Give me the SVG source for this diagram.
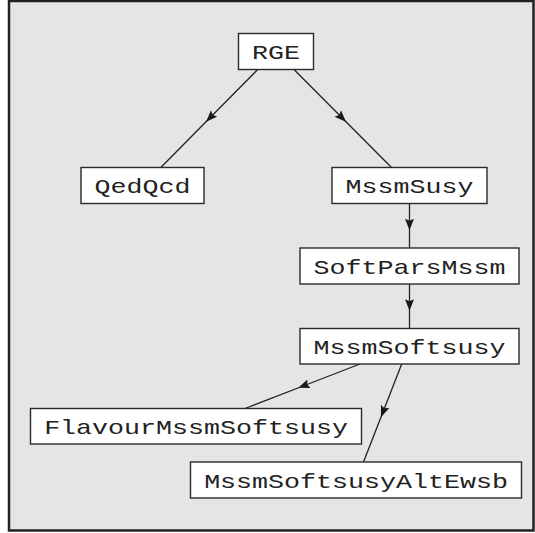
<svg xmlns="http://www.w3.org/2000/svg" width="535" height="533" viewBox="0 0 535 533">
<style>
.node rect{fill:#fff;stroke:#2a2a2a;stroke-width:1.4}
.node text{font-family:"Liberation Mono","Courier New",monospace;font-size:20.5px;fill:#222;text-anchor:middle}
.edge{fill:none;stroke:#222;stroke-width:1.3;marker-mid:url(#arr)}
</style>
<defs>
<marker id="arr" markerUnits="userSpaceOnUse" markerWidth="12" markerHeight="10" viewBox="0 0 12 9" refX="7" refY="4.5" orient="auto">
<path d="M0,0 L11.5,4.5 L0,9 L2,4.5 z" fill="#1a1a1a"/>
</marker>
</defs>
<rect x="9" y="1" width="524.5" height="529.5" fill="#e5e5e5" stroke="#222" stroke-width="2.5"/>
<g id="connectors">
<path class="edge" d="M257.7,69.5 L209.25,118.5 L160.8,167.5"/>
<path class="edge" d="M294,69.5 L342.75,118.5 L391.5,167.5"/>
<path class="edge" d="M409.5,203.5 L409.5,225.75 L409.5,248"/>
<path class="edge" d="M409.5,284 L409.5,306.25 L409.5,328.5"/>
<path class="edge" d="M360,364 L302.5,386.25 L245,408.5"/>
<path class="edge" d="M401.7,364 L382.6,413 L363.5,462"/>
</g>
<g id="RGE" class="node"><rect x="238.5" y="33.5" width="75" height="36"/><text transform="translate(276,59) scale(1.3,1)">RGE</text></g>
<g id="QedQcd" class="node"><rect x="81" y="167.5" width="123" height="36"/><text transform="translate(142.5,193) scale(1.3,1)">QedQcd</text></g>
<g id="MssmSusy" class="node"><rect x="332" y="167.5" width="155" height="36"/><text transform="translate(409.5,193) scale(1.3,1)">MssmSusy</text></g>
<g id="SoftParsMssm" class="node"><rect x="300" y="248" width="219" height="36"/><text transform="translate(409.5,273.5) scale(1.3,1)">SoftParsMssm</text></g>
<g id="MssmSoftsusy" class="node"><rect x="300" y="328.5" width="219" height="35.5"/><text transform="translate(409.5,354) scale(1.3,1)">MssmSoftsusy</text></g>
<g id="FlavourMssmSoftsusy" class="node"><rect x="30.5" y="408.5" width="331" height="35.5"/><text transform="translate(196,434) scale(1.3,1)">FlavourMssmSoftsusy</text></g>
<g id="MssmSoftsusyAltEwsb" class="node"><rect x="190.5" y="462" width="331" height="36"/><text transform="translate(356,487.5) scale(1.3,1)">MssmSoftsusyAltEwsb</text></g>
</svg>
